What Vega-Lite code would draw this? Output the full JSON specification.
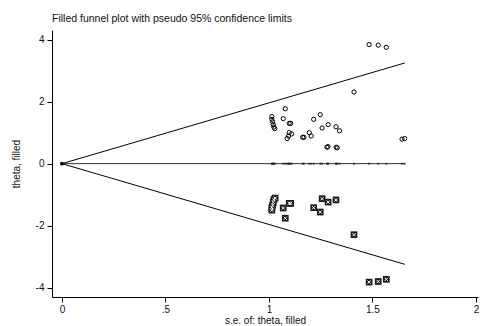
{
  "$schema": "https://vega.github.io/schema/vega-lite/v6.json",
  "autosize": {"type": "none"},
  "padding": {"left": 52, "top": 30, "right": 4, "bottom": 29},
  "width": 426,
  "height": 267,
  "background": "white",
  "config": {
    "font": "Liberation Sans",
    "view": {"stroke": null},
    "axis": {
      "grid": false,
      "domainColor": "#000",
      "domainWidth": 1,
      "tickColor": "#000",
      "tickSize": 5,
      "labelColor": "#111",
      "labelFontSize": 10,
      "titleColor": "#111",
      "titleFontSize": 10,
      "titleFontWeight": "normal"
    }
  },
  "title": {
    "text": "Filled funnel plot with pseudo 95% confidence limits",
    "anchor": "start",
    "frame": "group",
    "fontSize": 10.5,
    "fontWeight": "normal",
    "color": "#111",
    "offset": 6
  },
  "datasets": {
    "observed": [
      {"se": 1.484, "theta": 3.84}, {"se": 1.528, "theta": 3.82}, {"se": 1.567, "theta": 3.75},
      {"se": 1.411, "theta": 2.31}, {"se": 1.079, "theta": 1.77},
      {"se": 1.014, "theta": 1.52}, {"se": 1.014, "theta": 1.43}, {"se": 1.018, "theta": 1.35},
      {"se": 1.021, "theta": 1.26}, {"se": 1.024, "theta": 1.18}, {"se": 1.028, "theta": 1.13},
      {"se": 1.069, "theta": 1.45}, {"se": 1.098, "theta": 1.30}, {"se": 1.105, "theta": 1.30},
      {"se": 1.098, "theta": 1.00}, {"se": 1.110, "theta": 0.96}, {"se": 1.095, "theta": 0.89},
      {"se": 1.088, "theta": 0.81}, {"se": 1.163, "theta": 0.85}, {"se": 1.169, "theta": 0.85},
      {"se": 1.195, "theta": 1.00}, {"se": 1.204, "theta": 0.89}, {"se": 1.216, "theta": 1.43},
      {"se": 1.248, "theta": 1.58}, {"se": 1.257, "theta": 1.15}, {"se": 1.286, "theta": 1.26},
      {"se": 1.324, "theta": 1.19}, {"se": 1.341, "theta": 1.06}, {"se": 1.280, "theta": 0.53},
      {"se": 1.285, "theta": 0.55}, {"se": 1.325, "theta": 0.53}, {"se": 1.330, "theta": 0.51},
      {"se": 1.643, "theta": 0.79}, {"se": 1.656, "theta": 0.81}
    ],
    "filled": [
      {"se": 1.484, "theta": -3.82}, {"se": 1.528, "theta": -3.80}, {"se": 1.567, "theta": -3.73},
      {"se": 1.411, "theta": -2.29}, {"se": 1.079, "theta": -1.76},
      {"se": 1.014, "theta": -1.50}, {"se": 1.014, "theta": -1.42}, {"se": 1.018, "theta": -1.34},
      {"se": 1.021, "theta": -1.25}, {"se": 1.024, "theta": -1.16}, {"se": 1.030, "theta": -1.11},
      {"se": 1.069, "theta": -1.43}, {"se": 1.098, "theta": -1.28}, {"se": 1.105, "theta": -1.28},
      {"se": 1.216, "theta": -1.42}, {"se": 1.248, "theta": -1.56}, {"se": 1.257, "theta": -1.13},
      {"se": 1.286, "theta": -1.24}, {"se": 1.324, "theta": -1.17}
    ],
    "limits": [
      {"se": 0, "theta": 0, "limit": "upper"}, {"se": 1.656, "theta": 3.246, "limit": "upper"},
      {"se": 0, "theta": 0, "limit": "lower"}, {"se": 1.656, "theta": -3.246, "limit": "lower"}
    ],
    "pooled": [
      {"se": 0, "theta": 0}, {"se": 1.656, "theta": 0}
    ]
  },
  "encoding": {
    "x": {
      "field": "se", "type": "quantitative",
      "scale": {"domain": [-0.048, 2.01], "nice": false, "zero": false},
      "axis": {
        "title": "s.e. of: theta, filled",
        "values": [0, 0.5, 1, 1.5, 2],
        "labelExpr": "datum.value == 0.5 ? '.5' : format(datum.value, '~g')",
        "labelPadding": 2,
        "titlePadding": 1
      }
    },
    "y": {
      "field": "theta", "type": "quantitative",
      "scale": {"domain": [-4.3, 4.31], "nice": false, "zero": false},
      "axis": {
        "title": "theta, filled",
        "values": [-4, -2, 0, 2, 4],
        "labelExpr": "replace(datum.label, '\u2212', '-')",
        "labelPadding": 3,
        "titlePadding": 14
      }
    }
  },
  "layer": [
    {
      "data": {"name": "pooled"},
      "mark": {"type": "line", "color": "#333", "strokeWidth": 1}
    },
    {
      "data": {"name": "observed"},
      "mark": {"type": "point", "shape": "square", "filled": true, "color": "#222", "size": 3, "opacity": 1},
      "encoding": {"y": {"datum": 0}}
    },
    {
      "data": {"name": "limits"},
      "mark": {"type": "line", "color": "#000", "strokeWidth": 1},
      "encoding": {"detail": {"field": "limit"}}
    },
    {
      "data": {"name": "pooled"},
      "transform": [{"filter": "datum.se == 0"}],
      "mark": {"type": "point", "shape": "circle", "filled": true, "color": "#000", "size": 14, "opacity": 1}
    },
    {
      "data": {"name": "observed"},
      "mark": {"type": "point", "shape": "circle", "filled": false, "color": "#000", "strokeWidth": 1, "size": 18, "opacity": 1}
    },
    {
      "data": {"name": "filled"},
      "mark": {"type": "point", "shape": "square", "filled": true, "color": "#1a1a1a", "size": 45, "opacity": 1}
    },
    {
      "data": {"name": "filled"},
      "mark": {"type": "point", "shape": "M-1,-1L1,1M-1,1L1,-1", "filled": false, "color": "#fff", "strokeWidth": 1, "size": 10, "opacity": 1}
    }
  ]
}
